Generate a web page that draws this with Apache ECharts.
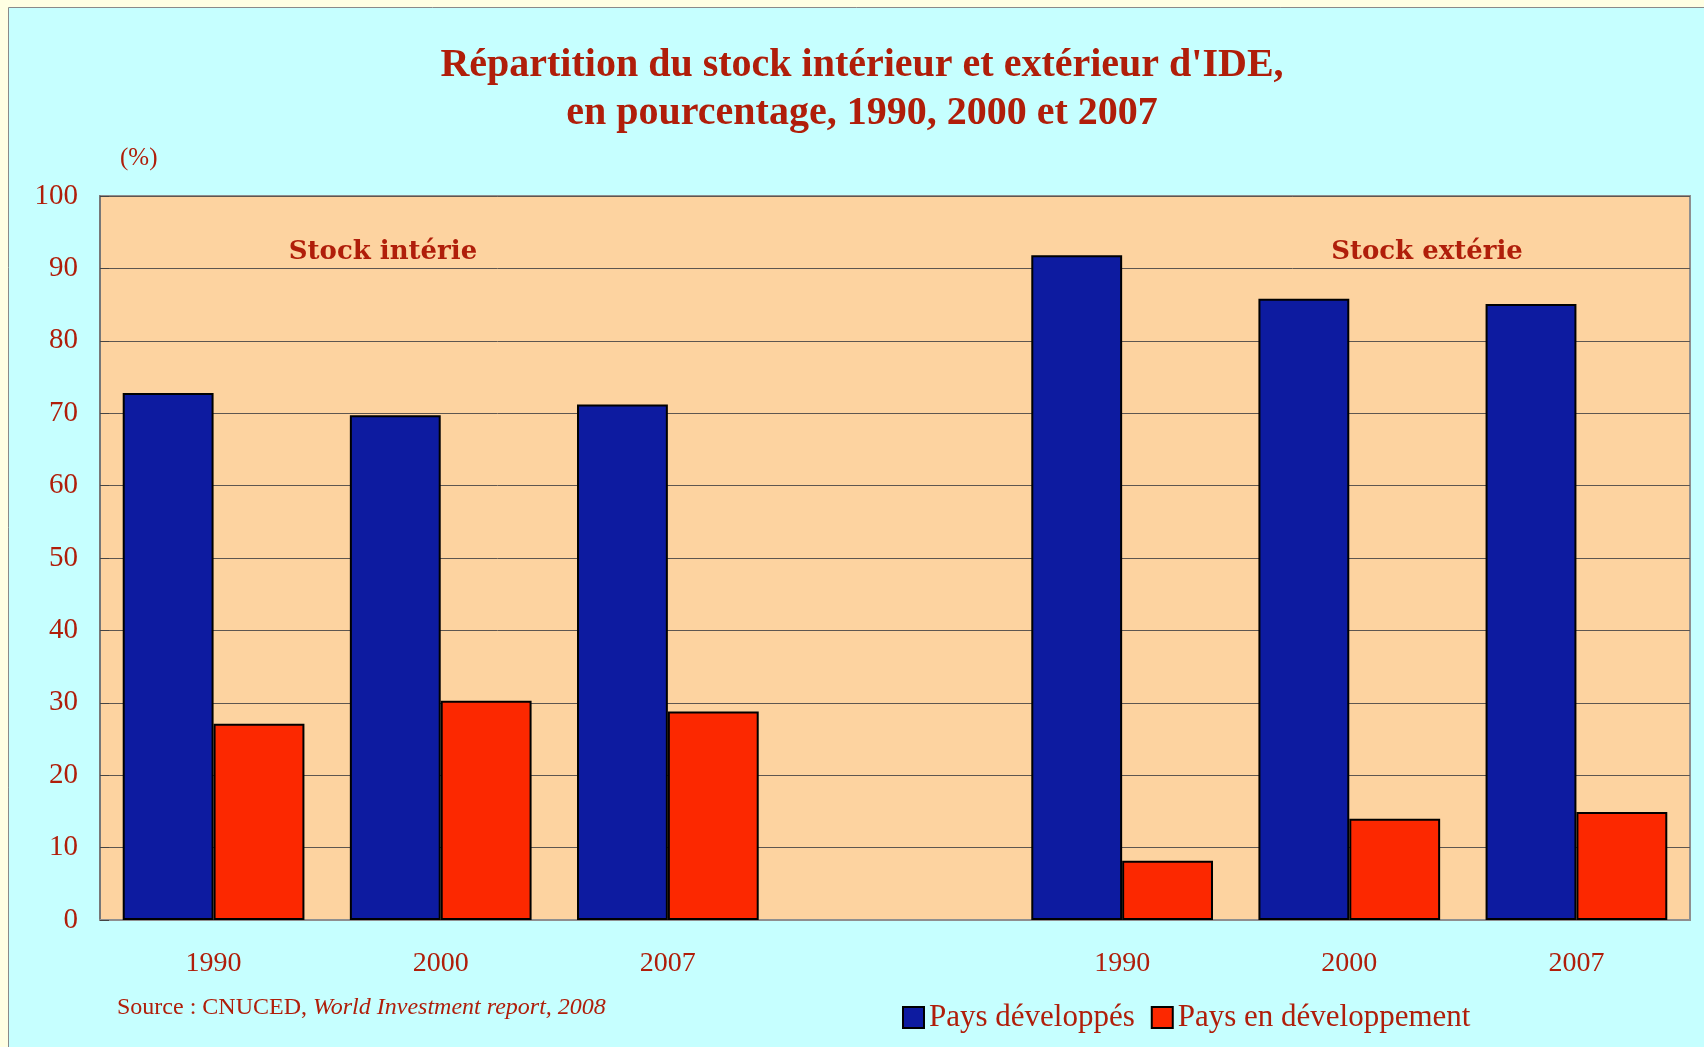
<!DOCTYPE html>
<html>
<head>
<meta charset="utf-8">
<title>Répartition du stock intérieur et extérieur d'IDE</title>
<script src="https://cdn.jsdelivr.net/npm/echarts@6/dist/echarts.min.js"></script>
<style>
  html, body { margin: 0; padding: 0; background: #FFFFE3; }
  #chart { width: 1704px; height: 1047px; }
</style>
</head>
<body>
<div id="chart"></div>
<script>
// données (%) : stock intérieur puis stock extérieur, séparés par une case vide
const years = ['1990', '2000', '2007'];
const categories = [...years, '', ...years];
const developpes = [72.8, 69.7, 71.2, null, 91.8, 85.8, 85.1];
const enDeveloppement = [27.1, 30.3, 28.8, null, 8.2, 14.0, 14.9];
const seriesNames = ['Pays développés', 'Pays en développement'];
const yTicks = { min: 0, max: 100, interval: 10 };

const textColor = '#B01E0A';
const serif = 'Liberation Serif';

let myChart = echarts.init(document.getElementById('chart'));

myChart.setOption({
    animation: false,
    backgroundColor: '#FFFFE3',
    title: {
        text: "Répartition du stock intérieur et extérieur d'IDE,\nen pourcentage, 1990, 2000 et 2007",
        left: 857,
        top: 37,
        textAlign: 'center',
        textStyle: {
            fontFamily: serif,
            fontWeight: 'bold',
            fontSize: 40,
            lineHeight: 48,
            color: textColor
        }
    },
    graphic: [
        {
            type: 'rect',
            z: -10,
            silent: true,
            shape: { x: 8.5, y: 7.5, width: 1720, height: 1060 },
            style: { fill: '#C6FFFF', stroke: '#8a8a8a', lineWidth: 1 }
        },
        {
            type: 'text',
            left: 120,
            top: 146,
            style: { text: '(%)', font: '25px "Liberation Serif"', fill: textColor }
        },
        {
            type: 'text',
            x: 383,
            y: 252,
            z: 10,
            style: {
                text: 'Stock intérie',
                font: 'bold 26px "DejaVu Serif"',
                fill: textColor,
                textAlign: 'center',
                textVerticalAlign: 'middle'
            }
        },
        {
            type: 'text',
            x: 1427,
            y: 252,
            z: 10,
            style: {
                text: 'Stock extérie',
                font: 'bold 26px "DejaVu Serif"',
                fill: textColor,
                textAlign: 'center',
                textVerticalAlign: 'middle'
            }
        },
        {
            type: 'text',
            left: 117,
            top: 996,
            style: {
                text: '{n|Source : CNUCED, }{i|World Investment report, 2008}',
                rich: {
                    n: { fontFamily: serif, fontSize: 24, fill: textColor },
                    i: { fontFamily: serif, fontSize: 24, fontStyle: 'italic', fill: textColor }
                }
            }
        }
    ],
    legend: {
        data: seriesNames,
        left: 902,
        top: 1002,
        padding: 0,
        itemWidth: 21,
        itemHeight: 21,
        itemGap: 16,
        icon: 'rect',
        textStyle: { fontFamily: serif, fontSize: 31, color: textColor }
    },
    grid: {
        show: true,
        left: 100,
        right: 14,
        top: 196,
        bottom: 127,
        backgroundColor: '#FDD3A0',
        borderColor: '#8f8f8f',
        borderWidth: 2
    },
    xAxis: {
        type: 'category',
        data: categories,
        axisLine: { lineStyle: { color: '#8f8f8f', width: 2 } },
        axisTick: { inside: true, length: 9, lineStyle: { color: '#888' } },
        axisLabel: { margin: 30, fontFamily: serif, fontSize: 28, color: textColor }
    },
    yAxis: {
        type: 'value',
        min: yTicks.min,
        max: yTicks.max,
        interval: yTicks.interval,
        axisLine: { show: true, lineStyle: { color: '#777', width: 2 } },
        axisTick: { show: true, inside: true, length: 9, lineStyle: { color: '#444' } },
        axisLabel: { margin: 22, fontFamily: serif, fontSize: 29, color: textColor },
        splitLine: { lineStyle: { color: '#5e5650', width: 1 } }
    },
    series: [
        {
            name: seriesNames[0],
            type: 'bar',
            data: developpes,
            barWidth: '40%',
            barGap: '0%',
            itemStyle: { color: '#0D1BA0', borderColor: '#000', borderWidth: 2 }
        },
        {
            name: seriesNames[1],
            type: 'bar',
            data: enDeveloppement,
            barWidth: '40%',
            barGap: '0%',
            itemStyle: { color: '#FC2800', borderColor: '#000', borderWidth: 2 }
        }
    ]
});
</script>
</body>
</html>
